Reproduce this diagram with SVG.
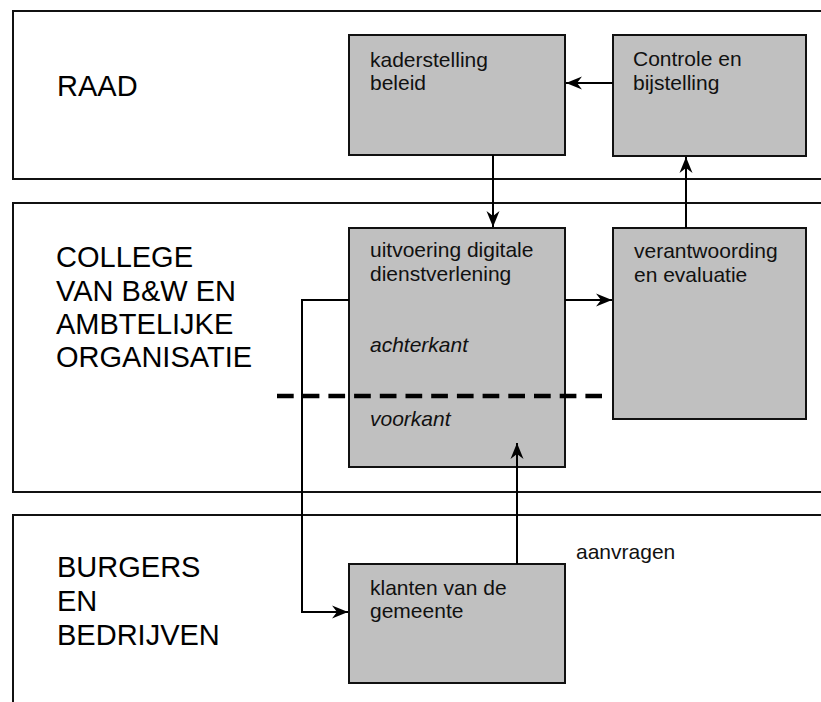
<svg xmlns="http://www.w3.org/2000/svg" width="821" height="702" viewBox="0 0 821 702">
<style>
.lane{fill:#fff;stroke:#111;stroke-width:2}
.box{fill:#c0c0c0;stroke:#111;stroke-width:2}
.lt{font-family:"Liberation Sans",Arial,sans-serif;font-size:29px;fill:#000}
.nt{font-family:"Liberation Sans",Arial,sans-serif;font-size:21px;fill:#111}
.it{font-style:italic}
.con{fill:none;stroke:#000;stroke-width:2}
</style>
<defs>
<marker id="ah" markerUnits="userSpaceOnUse" markerWidth="20" markerHeight="16" viewBox="-17 -8 18 16" refX="0" refY="0" orient="auto">
<path d="M0,0 L-16,-6.5 L-11,0 L-16,6.5 Z" fill="#000"/>
</marker>
</defs>
<rect width="821" height="702" fill="#fff"/>
<g id="lane-raad">
<rect class="lane" x="13" y="11" width="900" height="168"/>
<text class="lt" x="57" y="96">RAAD</text>
</g>
<g id="lane-college">
<rect class="lane" x="13" y="203" width="900" height="289"/>
<text class="lt" x="56" y="267">COLLEGE</text>
<text class="lt" x="56" y="300.5">VAN B&amp;W EN</text>
<text class="lt" x="56" y="333.5">AMBTELIJKE</text>
<text class="lt" x="56" y="367">ORGANISATIE</text>
</g>
<g id="lane-burgers">
<rect class="lane" x="13" y="515" width="900" height="300"/>
<text class="lt" x="57" y="577">BURGERS</text>
<text class="lt" x="57" y="611">EN</text>
<text class="lt" x="57" y="645">BEDRIJVEN</text>
</g>
<g id="node-kaderstelling">
<rect class="box" x="349" y="35" width="216" height="120"/>
<text class="nt" x="370" y="67">kaderstelling</text>
<text class="nt" x="370" y="90">beleid</text>
</g>
<g id="node-controle">
<rect class="box" x="613" y="35" width="193" height="121"/>
<text class="nt" x="633" y="66">Controle en</text>
<text class="nt" x="633" y="90">bijstelling</text>
</g>
<g id="node-uitvoering">
<rect class="box" x="349" y="228" width="216" height="239"/>
<text class="nt" x="370" y="257">uitvoering digitale</text>
<text class="nt" x="370" y="281">dienstverlening</text>
<text class="nt it" x="370" y="352">achterkant</text>
<text class="nt it" x="370" y="426">voorkant</text>
</g>
<g id="node-verantwoording">
<rect class="box" x="613" y="228" width="193" height="191"/>
<text class="nt" x="634" y="258">verantwoording</text>
<text class="nt" x="634" y="282">en evaluatie</text>
</g>
<g id="node-klanten">
<rect class="box" x="349" y="564" width="216" height="119"/>
<text class="nt" x="370" y="595">klanten van de</text>
<text class="nt" x="370" y="618">gemeente</text>
</g>
<line id="divider" x1="277" y1="396" x2="602" y2="396" stroke="#000" stroke-width="4.5" stroke-dasharray="16.7 9"/>
<g id="connectors">
<path class="con" d="M613,83 H566" marker-end="url(#ah)"/>
<path class="con" d="M493,155 V227" marker-end="url(#ah)"/>
<path class="con" d="M686,228 V157" marker-end="url(#ah)"/>
<path class="con" d="M565,300 H612" marker-end="url(#ah)"/>
<path class="con" d="M349,300 H302 V612 H348" marker-end="url(#ah)"/>
<path class="con" d="M517,564 V443" marker-end="url(#ah)"/>
<text class="nt" x="576" y="559">aanvragen</text>
</g>
</svg>
